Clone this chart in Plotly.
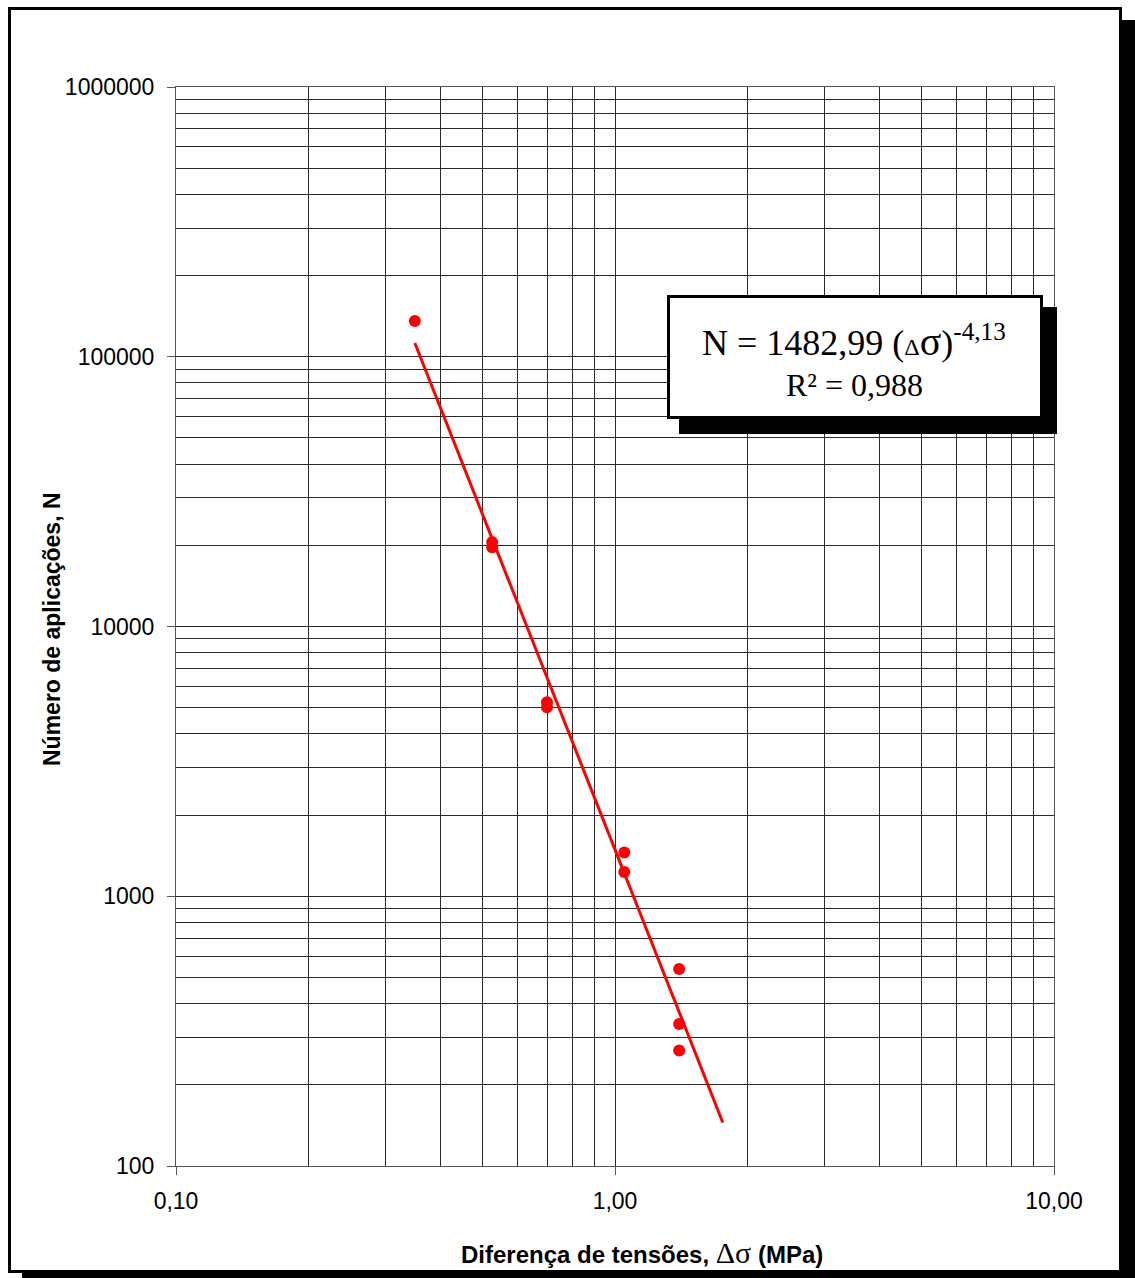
import plotly.graph_objects as go

# ---- data ----
delta_sigma = [0.35, 0.525, 0.525, 0.70, 0.70, 1.05, 1.05, 1.40, 1.40, 1.40]
n_apps = [135800, 20550, 19680, 5240, 5015, 1452, 1230, 537, 336, 268]

trend_x = [0.35, 1.76]
trend_y = [112500, 145]

x_ticks = [0.1, 1, 10]
x_ticktext = ["0,10", "1,00", "10,00"]
y_ticks = [100, 1000, 10000, 100000, 1000000]
y_ticktext = ["100", "1000", "10000", "100000", "1000000"]

x_minor = [m * d for d in [0.1, 1] for m in range(2, 10)]
y_minor = [m * d for d in [100, 1000, 10000, 100000] for m in range(2, 10)]

W, H = 1135, 1278
L, R, T, B = 176, 1054, 87, 1166
PW, PH = R - L, B - T


def px(x):
    return (x - L) / PW


def py(y):
    return (B - y) / PH


fig = go.Figure()

fig.add_trace(go.Scatter(
    x=trend_x, y=trend_y, mode="lines",
    line=dict(color="#ff0000", width=3), showlegend=False, hoverinfo="skip"))

fig.add_trace(go.Scatter(
    x=delta_sigma, y=n_apps, mode="markers",
    marker=dict(color="#ff0000", size=12, line=dict(width=0)),
    showlegend=False))

grid_col = "#2a2a2a"
sans = "Liberation Sans, Arial, sans-serif"
axis_font = dict(family=sans, size=23, color="#000")

fig.update_xaxes(
    type="log", range=[-1, 1],
    tickmode="array", tickvals=x_ticks, ticktext=x_ticktext,
    ticks="outside", ticklen=8, tickcolor="#555", tickwidth=1,
    showgrid=True, gridcolor=grid_col, gridwidth=1,
    minor=dict(tickmode="array", tickvals=x_minor, showgrid=True,
               gridcolor=grid_col, gridwidth=1, ticks=""),
    showline=True, linecolor="#555", linewidth=1, mirror=True,
    tickfont=axis_font, ticklabelstandoff=6, zeroline=False,
)
fig.update_yaxes(
    type="log", range=[2, 6],
    tickmode="array", tickvals=y_ticks, ticktext=y_ticktext,
    ticks="outside", ticklen=8, tickcolor="#555", tickwidth=1,
    showgrid=True, gridcolor=grid_col, gridwidth=1,
    minor=dict(tickmode="array", tickvals=y_minor, showgrid=True,
               gridcolor=grid_col, gridwidth=1, ticks=""),
    showline=True, linecolor="#555", linewidth=1, mirror=True,
    tickfont=axis_font, ticklabelstandoff=8, zeroline=False,
)

shapes = [
    # outer frame shadow + frame
    dict(type="rect", xref="paper", yref="paper",
         x0=px(22), x1=px(1135), y0=py(1278), y1=py(20),
         fillcolor="#000", line=dict(width=0), layer="below"),
    dict(type="rect", xref="paper", yref="paper",
         x0=px(9.5), x1=px(1120.5), y0=py(1271.5), y1=py(8.5),
         fillcolor="#fff", line=dict(color="#000", width=3), layer="below"),
    # equation box shadow + box
    dict(type="rect", xref="paper", yref="paper",
         x0=px(679), x1=px(1057), y0=py(434), y1=py(307),
         fillcolor="#000", line=dict(width=0), layer="above"),
    dict(type="rect", xref="paper", yref="paper",
         x0=px(668.5), x1=px(1041.5), y0=py(417.5), y1=py(296.5),
         fillcolor="#fff", line=dict(color="#000", width=3), layer="above"),
]

serif = "Liberation Serif, Times New Roman, serif"
annotations = [
    dict(xref="paper", yref="paper", x=px(854), y=py(341),
         xanchor="center", yanchor="middle", showarrow=False,
         text="N = 1482,99 (<span style='font-size:24px'>Δ</span><span style='font-size:40px'>σ</span>)<sup>-4,13</sup>",
         font=dict(family=serif, size=36, color="#000")),
    dict(xref="paper", yref="paper", x=px(854), y=py(385),
         xanchor="center", yanchor="middle", showarrow=False,
         text="R² = 0,988",
         font=dict(family=serif, size=32, color="#000")),
    dict(xref="paper", yref="paper", x=px(642), y=py(1252),
         xanchor="center", yanchor="middle", showarrow=False,
         text="<b>Diferença de tensões, </b><span style='font-family:Liberation Serif;font-size:30px'>Δσ</span><b> (MPa)</b>",
         font=dict(family=sans, size=24, color="#000")),
    dict(xref="paper", yref="paper", x=px(52), y=py(629),
         xanchor="center", yanchor="middle", showarrow=False, textangle=-90,
         text="<b>Número de aplicações, N</b>",
         font=dict(family=sans, size=23, color="#000")),
]

fig.update_layout(
    width=W, height=H, autosize=False,
    margin=dict(l=L, r=W - R, t=T, b=H - B, pad=0),
    paper_bgcolor="#fff", plot_bgcolor="rgba(0,0,0,0)",
    shapes=shapes, annotations=annotations, showlegend=False,
)

fig.write_html("out.html")
